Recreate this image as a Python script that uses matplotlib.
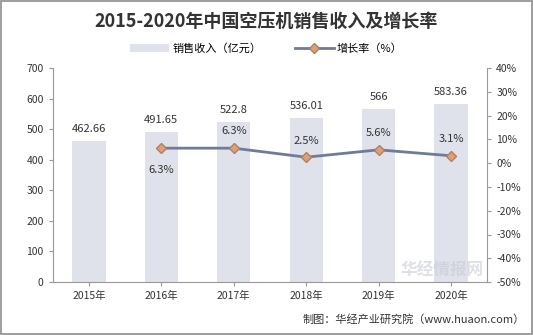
import numpy as np
import matplotlib.pyplot as plt
from matplotlib.patches import Rectangle

plt.rcParams['font.family'] = ['Noto Sans CJK SC', 'DejaVu Sans']

years = ['2015年', '2016年', '2017年', '2018年', '2019年', '2020年']
revenue = [462.66, 491.65, 522.8, 536.01, 566, 583.36]
growth_years = [1, 2, 3, 4, 5]
growth = [6.3, 6.3, 2.5, 5.6, 3.1]
growth_labels = ['6.3%', '6.3%', '2.5%', '5.6%', '3.1%']
growth_offsets = [-16, 12, 12, 12, 12]

fig = plt.figure(figsize=(5.33, 3.35), dpi=100)
fig.patches.append(Rectangle((0.002, 0.003), 0.996, 0.994, transform=fig.transFigure,
                             fill=False, edgecolor='#8c8c8c', linewidth=1.2))
ax = fig.add_axes([0.099, 0.158, 0.815, 0.639])
x = np.arange(len(years))
bars = ax.bar(x, revenue, width=0.46, color='#dfe1eb', label='销售收入（亿元）', zorder=1)
for xi, v in zip(x, revenue):
    ax.text(xi, v + 22, f'{v:g}', ha='center', va='bottom', fontsize=8, color='#333333')

ax.set_ylim(0, 700)
ax.set_xlim(-0.5, 5.5)
ax.set_yticks(range(0, 701, 100))
ax.set_xticks(x)
ax.set_xticklabels(years)
ax.tick_params(labelsize=7.5, colors='#333333', length=3, color='#999999')
for s in ['top', 'right']:
    ax.spines[s].set_visible(False)
for s in ['left', 'bottom']:
    ax.spines[s].set_color('#999999')

ax2 = ax.twinx()
line, = ax2.plot(growth_years, growth, color='#6e7b99', linewidth=2, marker='D',
                 markersize=5, markerfacecolor='#d9a07a', markeredgecolor='#b08060',
                 label='增长率（%）', zorder=3)
for xi, v, lab, off in zip(growth_years, growth, growth_labels, growth_offsets):
    ax2.annotate(lab, (xi, v), textcoords='offset points', xytext=(0, off),
                 ha='center', va='center', fontsize=8, color='#333333')
ax2.set_ylim(-50, 40)
ax2.set_yticks(range(-50, 41, 10))
ax2.set_yticklabels([f'{t}%' for t in range(-50, 41, 10)])
ax2.tick_params(labelsize=7.5, colors='#333333', length=3, color='#999999')
for s in ['top', 'left', 'bottom']:
    ax2.spines[s].set_visible(False)
ax2.spines['right'].set_color('#999999')

fig.text(0.5, 0.935, '2015-2020年中国空压机销售收入及增长率', ha='center', va='center',
         fontsize=13, fontweight='bold', color='#333333')
fig.legend(handles=[bars, line], loc='center', bbox_to_anchor=(0.5, 0.855), ncol=2,
           frameon=False, fontsize=8, handlelength=3.5, columnspacing=3, handletextpad=0.3)

# watermark
fig.text(0.83, 0.19, '华经情报网', ha='center', va='center', fontsize=12,
         fontweight='bold', color='#c8ccd4', alpha=0.6)
fig.text(0.985, 0.045, '制图：华经产业研究院（www.huaon.com）', ha='right', va='center',
         fontsize=8, color='#333333')

fig.savefig('out.png', dpi=100)
